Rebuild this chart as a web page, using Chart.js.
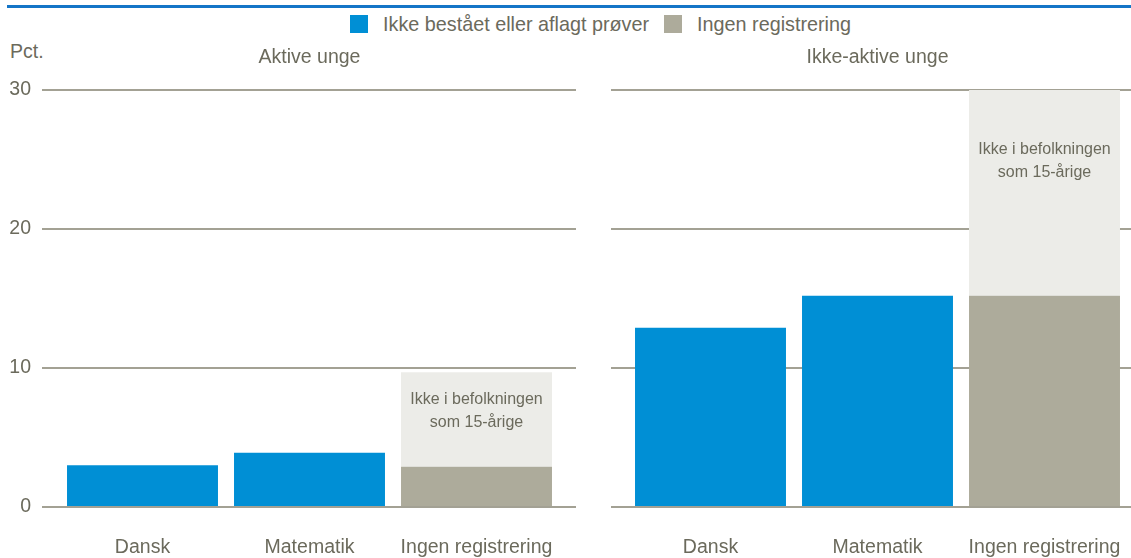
<!DOCTYPE html>
<html>
<head>
<meta charset="utf-8">
<script src="https://cdn.jsdelivr.net/npm/chart.js@4.4.1/dist/chart.umd.min.js"></script>
<style>
  body{margin:0;background:#fff;font-family:"Liberation Sans",Arial,sans-serif;color:#6b6a5c}
  #wrap{position:relative;width:1131px;height:558px;overflow:hidden}
  #topline{position:absolute;left:7px;right:0;top:5px;height:3px;background:#1475c7}
  #legend{position:absolute;left:350px;top:13px;display:flex;align-items:center;font-size:19.8px;line-height:22px}
  .item{display:flex;align-items:center;margin-right:15px}
  .sw{width:18px;height:18px;margin-right:15px}
  #pct{position:absolute;left:10px;top:40px;font-size:19.5px}
  canvas{position:absolute;top:0}
</style>
</head>
<body>
<div id="wrap">
  <div id="topline"></div>
  <div id="legend"></div>
  <div id="pct">Pct.</div>
  <canvas id="left" width="590" height="558" style="left:0"></canvas>
  <canvas id="right" width="541" height="558" style="left:590px"></canvas>
</div>
<script>
const categories = ['Dansk', 'Matematik', 'Ingen registrering'];
const panelTitles = ['Aktive unge', 'Ikke-aktive unge'];
const seriesNames = ['Ikke bestået eller aflagt prøver', 'Ingen registrering', 'Ikke i befolkningen som 15-årige'];
const noteLines = ['Ikke i befolkningen', 'som 15-årige'];
const yTicks = [0, 10, 20, 30];

// Aktive unge
const activeFailed = [3.0, 3.9, null];
const activeNoReg = [null, null, 2.9];
const activeNotPop = [null, null, 6.8];
// Ikke-aktive unge
const inactiveFailed = [12.9, 15.2, null];
const inactiveNoReg = [null, null, 15.2];
const inactiveNotPop = [null, null, 14.8];

const colors = ['#008fd5', '#adab9b', '#ecece8'];
const textColor = '#6b6a5c';
const gridColor = '#a3a194';
const FONT = '"Liberation Sans", Arial, sans-serif';

// html legend, only the first two series
const legend = document.getElementById('legend');
seriesNames.slice(0, 2).forEach((name, i) => {
  const it = document.createElement('div');
  it.className = 'item';
  it.innerHTML = `<span class="sw" style="background:${colors[i]}"></span><span>${name}</span>`;
  legend.appendChild(it);
});

function hline(chart, v, opts) {
  const {ctx, chartArea, scales} = chart;
  const y = Math.round(scales.y.getPixelForValue(v));
  ctx.beginPath();
  ctx.moveTo(chartArea.left - opts.extLeft, y);
  ctx.lineTo(chartArea.right + opts.extRight, y);
  ctx.stroke();
}

const gridPlugin = {
  id: 'gridPlugin',
  beforeDatasetsDraw(chart, args, opts) {
    const ctx = chart.ctx;
    ctx.save();
    ctx.strokeStyle = gridColor;
    ctx.lineWidth = 2;
    yTicks.filter(v => v !== 0).forEach(v => hline(chart, v, opts));
    ctx.restore();
  },
  afterDatasetsDraw(chart, args, opts) {
    const {ctx, chartArea} = chart;
    ctx.save();
    ctx.strokeStyle = gridColor;
    ctx.lineWidth = 2;
    hline(chart, 0, opts);
    // note inside the light bar
    const el = chart.getDatasetMeta(2).data[2];
    ctx.fillStyle = textColor;
    ctx.font = '16px ' + FONT;
    ctx.textAlign = 'center';
    ctx.textBaseline = 'middle';
    noteLines.forEach((t, i) => ctx.fillText(t, el.x, el.y + opts.noteOffset + i * 23));
    // panel title
    ctx.font = '19.5px ' + FONT;
    ctx.fillText(opts.title, (chartArea.left + chartArea.right) / 2, 58);
    ctx.restore();
  }
};

function makeChart(id, data, cfg) {
  new Chart(document.getElementById(id), {
    type: 'bar',
    data: {
      labels: categories,
      datasets: data.map((d, i) => ({
        label: seriesNames[i],
        data: d,
        backgroundColor: colors[i],
        borderWidth: 0,
        categoryPercentage: 1,
        barPercentage: 0.904
      }))
    },
    options: {
      responsive: false,
      animation: false,
      layout: {padding: {top: 90, bottom: 0, left: cfg.padLeft, right: cfg.padRight}},
      plugins: {
        legend: {display: false},
        tooltip: {enabled: false},
        gridPlugin: cfg.grid
      },
      scales: {
        x: {
          stacked: true,
          grid: {display: false, drawTicks: false},
          border: {display: false},
          ticks: {color: textColor, font: {size: 19.5, family: FONT}, padding: 29, maxRotation: 0, autoSkip: false},
          afterFit: s => { s.height = 51; s.paddingLeft = 0; s.paddingRight = 0; }
        },
        y: {
          stacked: true,
          display: cfg.showY,
          min: 0,
          max: 30,
          afterBuildTicks: s => { s.ticks = yTicks.map(v => ({value: v})); },
          grid: {display: false, drawTicks: false},
          border: {display: false},
          ticks: {color: textColor, font: {size: 19.5, family: FONT}, padding: 28, crossAlign: 'near'},
          afterFit: s => { s.width = cfg.showY ? 59 : 0; }
        }
      }
    },
    plugins: [gridPlugin]
  });
}

makeChart('left', [activeFailed, activeNoReg, activeNotPop], {
  padLeft: 0, padRight: 30, showY: true,
  grid: {extLeft: 17, extRight: 16, noteOffset: 27, title: panelTitles[0]}
});
makeChart('right', [inactiveFailed, inactiveNoReg, inactiveNotPop], {
  padLeft: 37, padRight: 3, showY: false,
  grid: {extLeft: 16, extRight: 10, noteOffset: 60, title: panelTitles[1]}
});
</script>
</body>
</html>
